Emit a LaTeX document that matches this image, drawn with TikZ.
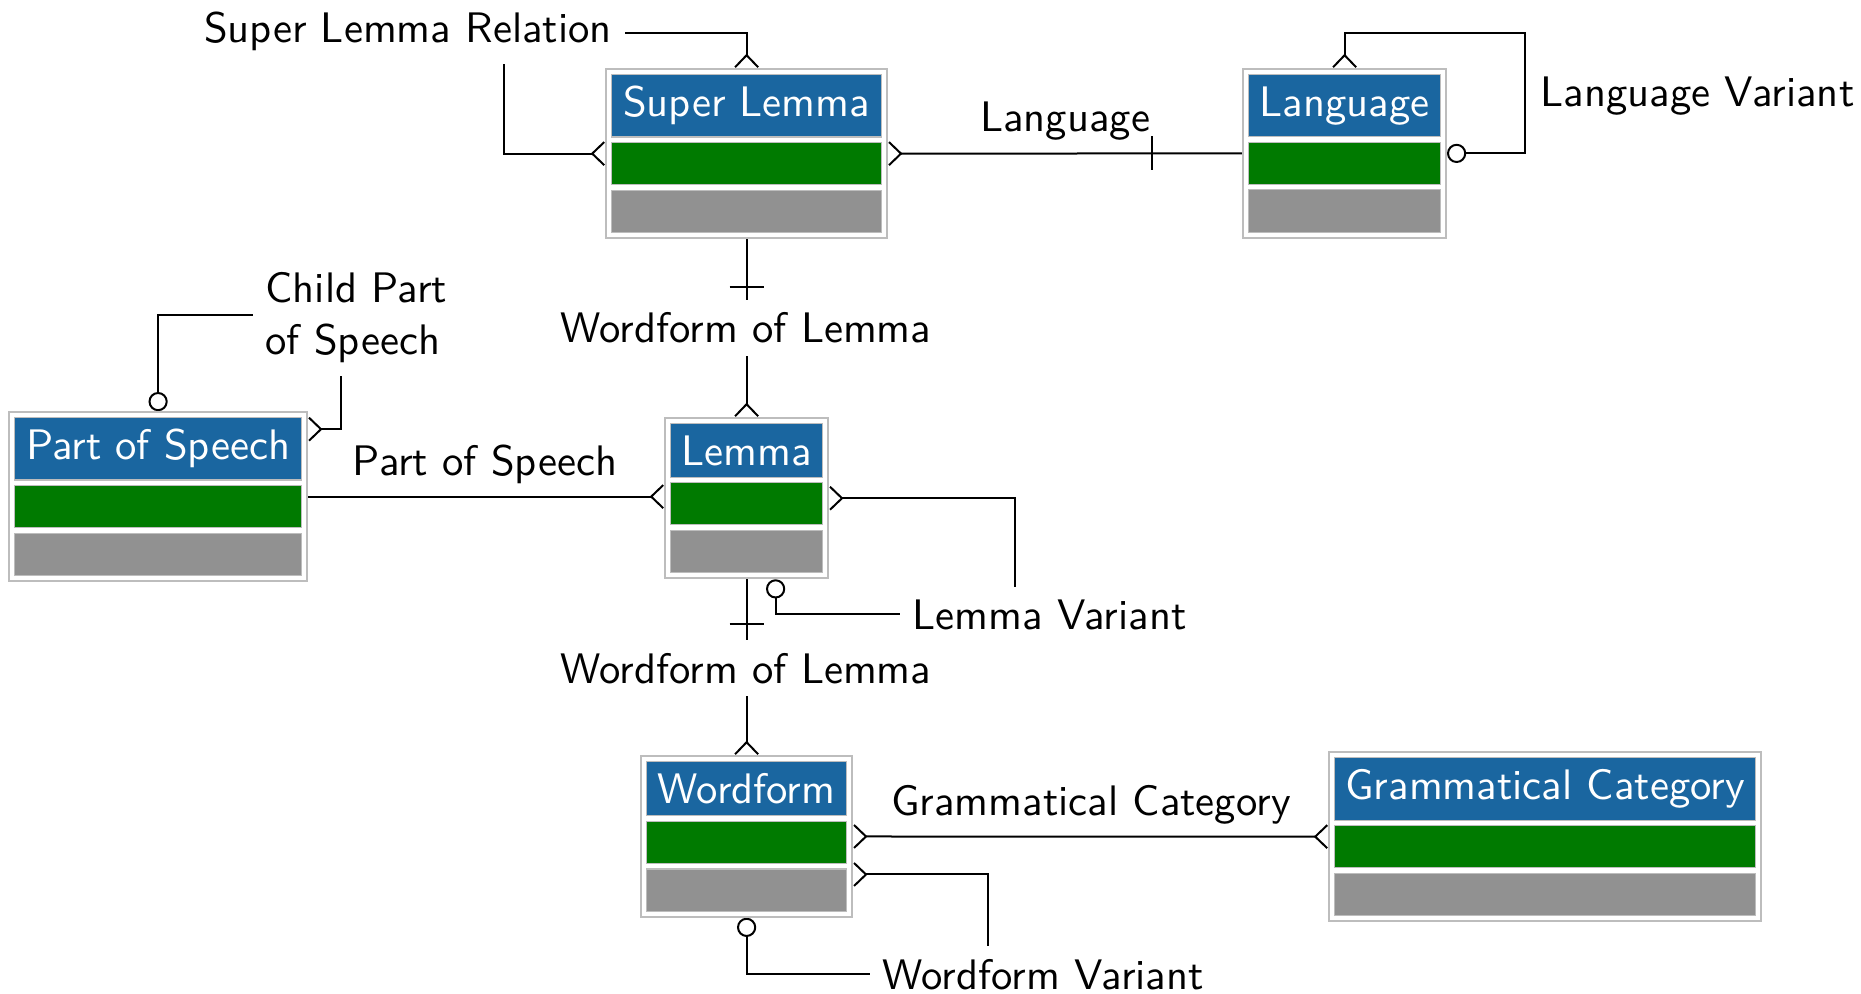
\documentclass[tikz,border=0pt]{standalone}
\usetikzlibrary{arrows.meta,calc,fit,backgrounds}
\definecolor{erblue}{HTML}{1A66A0}
\definecolor{ergreen}{HTML}{007A00}
\definecolor{ergray}{HTML}{919191}
\definecolor{erline}{HTML}{BDBDBD}
\tikzset{
  every node/.style={font=\sffamily\fontsize{10.67}{13}\selectfont},
  hdr/.style={fill=erblue, draw=erline, line width=0.3pt, text=white, inner xsep=0pt, inner ysep=2.95pt, anchor=north west},
  attr/.style={fill=ergreen, draw=erline, line width=0.3pt, inner sep=0pt, minimum height=10.5pt, anchor=north west},
  meth/.style={fill=ergray, draw=erline, line width=0.3pt, inner sep=0pt, minimum height=10.6pt, anchor=north west},
  frame/.style={draw=erline, line width=0.5pt, inner sep=1.2pt},
  lbl/.style={fill=white, inner sep=3.2pt},
  lblside/.style={inner sep=1pt},
  conn/.style={line width=0.5pt, black},
  ermany/.tip={Straight Barb[reversed,length=3pt,width=5.75pt]},
  erzero/.tip={Circle[open,length=4.8pt]},
}
\newcommand\erent[5]{%
  \node[hdr, minimum width=#4] (#1-h) at (#2,#3) {#5};
  \node[attr, minimum width=#4] (#1-a) at ([yshift=-1.1pt]#1-h.south west) {};
  \node[meth, minimum width=#4] (#1-m) at ([yshift=-1.1pt]#1-a.south west) {};
  \node[frame, fit=(#1-h)(#1-m)] (#1) {};
}
\begin{document}
\begin{tikzpicture}[x=0.25pt, y=-0.25pt]
\useasboundingbox (0,0) rectangle (1861,994);
% entities
\erent{sl}{611}{74}{67.5pt}{Super Lemma}
\erent{lang}{1248}{74}{48pt}{Language}
\erent{pos}{14}{417}{71.75pt}{Part of Speech}
\erent{lemma}{670}{423}{38pt}{Lemma}
\erent{wf}{646}{761}{50pt}{Wordform}
\erent{gc}{1334}{757}{105.25pt}{Grammatical Category}
% labels
\node[lbl, anchor=base] (slrel) at (408,43) {Super Lemma Relation};
\node[lblside, anchor=base] (langlbl) at (1065,132) {Language};
\node[lblside, anchor=base west] (lvlbl) at (1536,107) {Language Variant};
\node[lbl, anchor=base] (wol1) at (746,343) {Wordform of Lemma};
\node[lbl, anchor=west, align=left] (cpos) at (252,318) {Child Part\\of Speech};
\node[lblside, anchor=base] (poslbl) at (485,475) {Part of Speech};
\node[lbl, anchor=base west] (lvar) at (899,629) {Lemma Variant};
\node[lbl, anchor=base] (wol2) at (746,683) {Wordform of Lemma};
\node[lblside, anchor=base] (gclbl) at (1091,815) {Grammatical Category};
\node[lbl, anchor=base west] (wfv) at (869,989) {Wordform Variant};
% cardinality bars ("one")
\draw[conn] ($(lang.west)+(-90,-17)$) -- ++(0,34);
\draw[conn] ($(sl.south)+(-17,48)$) -- ++(34,0);
\draw[conn] ($(lemma.south)+(-17,45)$) -- ++(34,0);
% connectors
\begin{scope}[on background layer]
\coordinate (slc) at (504,33);
\coordinate (lvc) at (1525,33);
\coordinate (cpc) at (341,315);
\coordinate (posr) at ($(pos.north east)+(0,18)$);
\coordinate (lmc) at (1015,614);
\coordinate (lmv) at ($(lemma.south)+(29,0)$);
\coordinate (wfr) at ($(wf.east)+(0,38)$);
\coordinate (wfc) at (988,974);
\draw[conn, ermany-ermany] (sl.north) |- (slc) |- (sl.west);
\draw[conn, ermany-] (sl.east) -- (lang.west);
\draw[conn, ermany-erzero] (lang.north) |- (lvc) |- (lang.east);
\draw[conn, -ermany] (sl.south) -- (lemma.north);
\draw[conn, erzero-ermany] (pos.north) |- (cpc) |- (posr);
\draw[conn, -ermany] (pos.east) -- (pos.east -| lemma.west);
\draw[conn, ermany-erzero] (lemma.east) -| (lmc) -| (lmv);
\draw[conn, -ermany] (lemma.south) -- (wf.north);
\draw[conn, ermany-ermany] (wf.east) -- (gc.west);
\draw[conn, ermany-erzero] (wfr) -| (wfc) -| (wf.south);
\end{scope}
\end{tikzpicture}
\end{document}
